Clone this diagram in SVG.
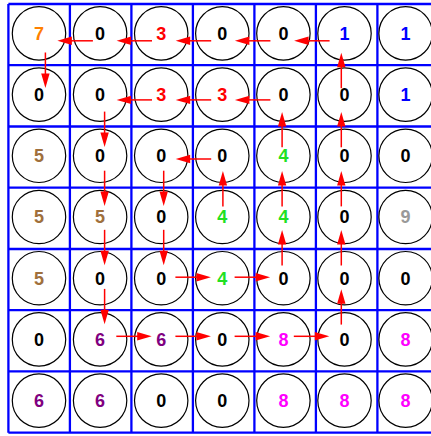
<svg xmlns="http://www.w3.org/2000/svg" width="431" height="436" viewBox="0 0 431 436">
<style>
.grid line{stroke:#0000ff;stroke-width:2.3}
.node circle{fill:none;stroke:#000;stroke-width:1.2}
.node text{font-family:"Liberation Sans",Arial,sans-serif;font-weight:bold;font-size:18px;text-anchor:middle}
.k{fill:#000}.o{fill:#ff8000}.r{fill:#ff0000}.b{fill:#0000ff}.br{fill:#a0703c}.g{fill:#22e022}.gy{fill:#999999}.p{fill:#800080}.m{fill:#ff00ff}
.edges line{stroke:#ff0000;stroke-width:1.5;marker-end:url(#ah)}
</style>
<defs>
<marker id="ah" markerUnits="userSpaceOnUse" markerWidth="15" markerHeight="9" refX="9.5" refY="4.2" orient="auto" overflow="visible">
<path d="M0,0 L14.5,4.2 L0,8.4 z" fill="#ff0000"/>
</marker>
</defs>
<rect width="431" height="436" fill="#fff"/>
<g class="grid">
<line x1="8.4" y1="4" x2="8.4" y2="432.7"/>
<line x1="69.9" y1="4" x2="69.9" y2="432.7"/>
<line x1="131.4" y1="4" x2="131.4" y2="432.7"/>
<line x1="192.9" y1="4" x2="192.9" y2="432.7"/>
<line x1="254.4" y1="4" x2="254.4" y2="432.7"/>
<line x1="315.9" y1="4" x2="315.9" y2="432.7"/>
<line x1="377.4" y1="4" x2="377.4" y2="432.7"/>
<line x1="8.4" y1="4" x2="431" y2="4"/>
<line x1="8.4" y1="65.2" x2="431" y2="65.2"/>
<line x1="8.4" y1="126.5" x2="431" y2="126.5"/>
<line x1="8.4" y1="187.7" x2="431" y2="187.7"/>
<line x1="8.4" y1="249" x2="431" y2="249"/>
<line x1="8.4" y1="310.2" x2="431" y2="310.2"/>
<line x1="8.4" y1="371.4" x2="431" y2="371.4"/>
<line x1="8.4" y1="432.7" x2="431" y2="432.7"/>
</g>
<g class="nodes">
<g class="node" id="n0_0"><circle cx="39" cy="33.4" r="26.7"/><text x="39" y="39.8" class="o">7</text></g>
<g class="node" id="n0_1"><circle cx="100.1" cy="33.4" r="26.7"/><text x="100.1" y="39.8" class="k">0</text></g>
<g class="node" id="n0_2"><circle cx="161.2" cy="33.4" r="26.7"/><text x="161.2" y="39.8" class="r">3</text></g>
<g class="node" id="n0_3"><circle cx="222.3" cy="33.4" r="26.7"/><text x="222.3" y="39.8" class="k">0</text></g>
<g class="node" id="n0_4"><circle cx="283.4" cy="33.4" r="26.7"/><text x="283.4" y="39.8" class="k">0</text></g>
<g class="node" id="n0_5"><circle cx="344.5" cy="33.4" r="26.7"/><text x="344.5" y="39.8" class="b">1</text></g>
<g class="node" id="n0_6"><circle cx="405.6" cy="33.4" r="26.7"/><text x="405.6" y="39.8" class="b">1</text></g>

<g class="node" id="n1_0"><circle cx="39" cy="94.6" r="26.7"/><text x="39" y="101" class="k">0</text></g>
<g class="node" id="n1_1"><circle cx="100.1" cy="94.6" r="26.7"/><text x="100.1" y="101" class="k">0</text></g>
<g class="node" id="n1_2"><circle cx="161.2" cy="94.6" r="26.7"/><text x="161.2" y="101" class="r">3</text></g>
<g class="node" id="n1_3"><circle cx="222.3" cy="94.6" r="26.7"/><text x="222.3" y="101" class="r">3</text></g>
<g class="node" id="n1_4"><circle cx="283.4" cy="94.6" r="26.7"/><text x="283.4" y="101" class="k">0</text></g>
<g class="node" id="n1_5"><circle cx="344.5" cy="94.6" r="26.7"/><text x="344.5" y="101" class="k">0</text></g>
<g class="node" id="n1_6"><circle cx="405.6" cy="94.6" r="26.7"/><text x="405.6" y="101" class="b">1</text></g>

<g class="node" id="n2_0"><circle cx="39" cy="155.8" r="26.7"/><text x="39" y="162.2" class="br">5</text></g>
<g class="node" id="n2_1"><circle cx="100.1" cy="155.8" r="26.7"/><text x="100.1" y="162.2" class="k">0</text></g>
<g class="node" id="n2_2"><circle cx="161.2" cy="155.8" r="26.7"/><text x="161.2" y="162.2" class="k">0</text></g>
<g class="node" id="n2_3"><circle cx="222.3" cy="155.8" r="26.7"/><text x="222.3" y="162.2" class="k">0</text></g>
<g class="node" id="n2_4"><circle cx="283.4" cy="155.8" r="26.7"/><text x="283.4" y="162.2" class="g">4</text></g>
<g class="node" id="n2_5"><circle cx="344.5" cy="155.8" r="26.7"/><text x="344.5" y="162.2" class="k">0</text></g>
<g class="node" id="n2_6"><circle cx="405.6" cy="155.8" r="26.7"/><text x="405.6" y="162.2" class="k">0</text></g>

<g class="node" id="n3_0"><circle cx="39" cy="217" r="26.7"/><text x="39" y="223.4" class="br">5</text></g>
<g class="node" id="n3_1"><circle cx="100.1" cy="217" r="26.7"/><text x="100.1" y="223.4" class="br">5</text></g>
<g class="node" id="n3_2"><circle cx="161.2" cy="217" r="26.7"/><text x="161.2" y="223.4" class="k">0</text></g>
<g class="node" id="n3_3"><circle cx="222.3" cy="217" r="26.7"/><text x="222.3" y="223.4" class="g">4</text></g>
<g class="node" id="n3_4"><circle cx="283.4" cy="217" r="26.7"/><text x="283.4" y="223.4" class="g">4</text></g>
<g class="node" id="n3_5"><circle cx="344.5" cy="217" r="26.7"/><text x="344.5" y="223.4" class="k">0</text></g>
<g class="node" id="n3_6"><circle cx="405.6" cy="217" r="26.7"/><text x="405.6" y="223.4" class="gy">9</text></g>

<g class="node" id="n4_0"><circle cx="39" cy="278.2" r="26.7"/><text x="39" y="284.6" class="br">5</text></g>
<g class="node" id="n4_1"><circle cx="100.1" cy="278.2" r="26.7"/><text x="100.1" y="284.6" class="k">0</text></g>
<g class="node" id="n4_2"><circle cx="161.2" cy="278.2" r="26.7"/><text x="161.2" y="284.6" class="k">0</text></g>
<g class="node" id="n4_3"><circle cx="222.3" cy="278.2" r="26.7"/><text x="222.3" y="284.6" class="g">4</text></g>
<g class="node" id="n4_4"><circle cx="283.4" cy="278.2" r="26.7"/><text x="283.4" y="284.6" class="k">0</text></g>
<g class="node" id="n4_5"><circle cx="344.5" cy="278.2" r="26.7"/><text x="344.5" y="284.6" class="k">0</text></g>
<g class="node" id="n4_6"><circle cx="405.6" cy="278.2" r="26.7"/><text x="405.6" y="284.6" class="k">0</text></g>

<g class="node" id="n5_0"><circle cx="39" cy="339.4" r="26.7"/><text x="39" y="345.8" class="k">0</text></g>
<g class="node" id="n5_1"><circle cx="100.1" cy="339.4" r="26.7"/><text x="100.1" y="345.8" class="p">6</text></g>
<g class="node" id="n5_2"><circle cx="161.2" cy="339.4" r="26.7"/><text x="161.2" y="345.8" class="p">6</text></g>
<g class="node" id="n5_3"><circle cx="222.3" cy="339.4" r="26.7"/><text x="222.3" y="345.8" class="k">0</text></g>
<g class="node" id="n5_4"><circle cx="283.4" cy="339.4" r="26.7"/><text x="283.4" y="345.8" class="m">8</text></g>
<g class="node" id="n5_5"><circle cx="344.5" cy="339.4" r="26.7"/><text x="344.5" y="345.8" class="k">0</text></g>
<g class="node" id="n5_6"><circle cx="405.6" cy="339.4" r="26.7"/><text x="405.6" y="345.8" class="m">8</text></g>

<g class="node" id="n6_0"><circle cx="39" cy="400.6" r="26.7"/><text x="39" y="407" class="p">6</text></g>
<g class="node" id="n6_1"><circle cx="100.1" cy="400.6" r="26.7"/><text x="100.1" y="407" class="p">6</text></g>
<g class="node" id="n6_2"><circle cx="161.2" cy="400.6" r="26.7"/><text x="161.2" y="407" class="k">0</text></g>
<g class="node" id="n6_3"><circle cx="222.3" cy="400.6" r="26.7"/><text x="222.3" y="407" class="k">0</text></g>
<g class="node" id="n6_4"><circle cx="283.4" cy="400.6" r="26.7"/><text x="283.4" y="407" class="m">8</text></g>
<g class="node" id="n6_5"><circle cx="344.5" cy="400.6" r="26.7"/><text x="344.5" y="407" class="m">8</text></g>
<g class="node" id="n6_6"><circle cx="405.6" cy="400.6" r="26.7"/><text x="405.6" y="407" class="m">8</text></g>
</g>
<g class="edges">
<line x1="92.9" y1="40.8" x2="62.4" y2="40.8"/>
<line x1="152" y1="40.8" x2="121.6" y2="40.8"/>
<line x1="211.2" y1="40.8" x2="180.7" y2="40.8"/>
<line x1="270.4" y1="40.8" x2="239.9" y2="40.8"/>
<line x1="329.6" y1="40.8" x2="299.1" y2="40.8"/>
<line x1="45.4" y1="52.5" x2="45.4" y2="82.9"/>
<line x1="341.3" y1="88.2" x2="341.3" y2="57.8"/>
<line x1="152" y1="99.9" x2="121.6" y2="99.9"/>
<line x1="211.2" y1="99.9" x2="180.7" y2="99.9"/>
<line x1="270.4" y1="99.9" x2="239.9" y2="99.9"/>
<line x1="104.6" y1="111.6" x2="104.6" y2="142"/>
<line x1="282.1" y1="147.3" x2="282.1" y2="116.9"/>
<line x1="341.3" y1="147.3" x2="341.3" y2="116.9"/>
<line x1="211.2" y1="159" x2="180.7" y2="159"/>
<line x1="104.6" y1="170.7" x2="104.6" y2="201.1"/>
<line x1="163.7" y1="170.7" x2="163.7" y2="201.1"/>
<line x1="222.9" y1="206.4" x2="222.9" y2="176"/>
<line x1="282.1" y1="206.4" x2="282.1" y2="176"/>
<line x1="341.3" y1="206.4" x2="341.3" y2="176"/>
<line x1="282.1" y1="265.5" x2="282.1" y2="235.1"/>
<line x1="341.3" y1="265.5" x2="341.3" y2="235.1"/>
<line x1="104.6" y1="229.8" x2="104.6" y2="260.2"/>
<line x1="163.7" y1="229.8" x2="163.7" y2="260.2"/>
<line x1="104.6" y1="288.9" x2="104.6" y2="319.3"/>
<line x1="341.3" y1="324.6" x2="341.3" y2="294.2"/>
<line x1="175.4" y1="277.2" x2="205.9" y2="277.2"/>
<line x1="234.6" y1="277.2" x2="265.1" y2="277.2"/>
<line x1="116.3" y1="336.3" x2="146.7" y2="336.3"/>
<line x1="175.4" y1="336.3" x2="205.9" y2="336.3"/>
<line x1="234.6" y1="336.3" x2="265.1" y2="336.3"/>
<line x1="293.8" y1="336.3" x2="324.3" y2="336.3"/>
</g>
</svg>
